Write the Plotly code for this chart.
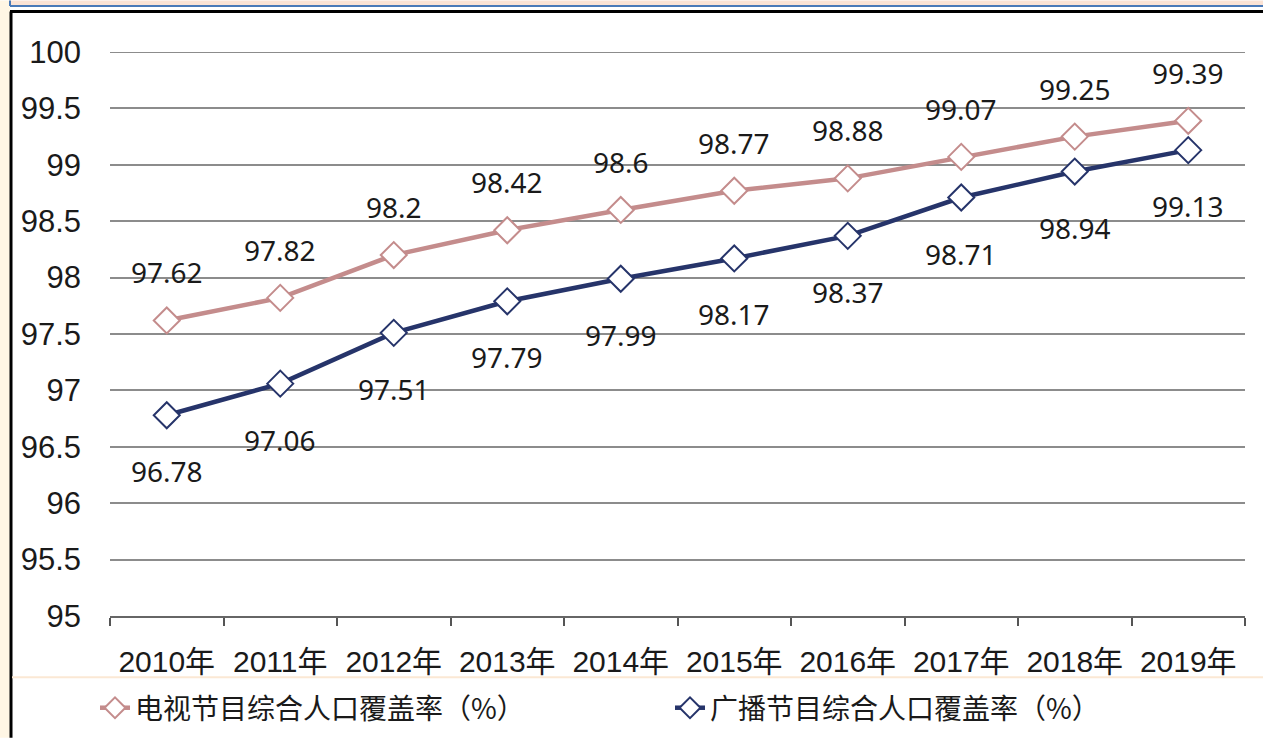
import plotly.graph_objects as go

years = ['2010年', '2011年', '2012年', '2013年', '2014年',
         '2015年', '2016年', '2017年', '2018年', '2019年']
tv_rate = [97.62, 97.82, 98.2, 98.42, 98.6, 98.77, 98.88, 99.07, 99.25, 99.39]
radio_rate = [96.78, 97.06, 97.51, 97.79, 97.99, 98.17, 98.37, 98.71, 98.94, 99.13]
tv_name = '电视节目综合人口覆盖率（%）'
radio_name = '广播节目综合人口覆盖率（%）'

W, H = 1263, 745
L, R, T, B = 110, 18, 52, 123
PW, PH = W - L - R, H - T - B

def px(x):
    return (x - L) / PW

def py(y):
    return (H - B - y) / PH

TICK_FONT = 'Liberation Sans, Arial, Noto Sans CJK SC'
TV_COLOR = '#c48c8c'
RADIO_COLOR = '#26346a'
LABEL_FONT = dict(size=28, color='#1a1a1a', family='Noto Sans, Liberation Sans')

fig = go.Figure()
fig.add_trace(go.Scatter(
    x=years, y=tv_rate, name=tv_name, mode='lines+markers', legend='legend',
    line=dict(color=TV_COLOR, width=4.5),
    marker=dict(symbol='diamond', size=20, color='white',
                line=dict(color=TV_COLOR, width=2))
))
fig.add_trace(go.Scatter(
    x=years, y=radio_rate, name=radio_name, mode='lines+markers', legend='legend2',
    line=dict(color=RADIO_COLOR, width=4.5),
    marker=dict(symbol='diamond', size=20, color='white',
                line=dict(color=RADIO_COLOR, width=2))
))

# data labels: tv above, radio below
for yr, v in zip(years, tv_rate):
    fig.add_annotation(x=yr, y=v, text=str(v), showarrow=False, yshift=48, font=LABEL_FONT)
for yr, v in zip(years, radio_rate):
    fig.add_annotation(x=yr, y=v, text=str(v), showarrow=False, yshift=-56, font=LABEL_FONT)

# frame decorations + top gridline at 100
shapes = [
    dict(type='line', xref='paper', yref='y', x0=0, x1=1, y0=100, y1=100,
         line=dict(color='#8c8c8c', width=2), layer='below'),
    dict(type='rect', xref='paper', yref='paper', x0=px(0), x1=px(10), y0=py(745), y1=py(0),
         fillcolor='#fff6e4', line=dict(width=0), layer='below'),
    dict(type='rect', xref='paper', yref='paper', x0=px(10), x1=px(1263), y0=py(5), y1=py(0),
         fillcolor='#fbe3d5', line=dict(width=0)),
    dict(type='line', xref='paper', yref='paper', x0=px(10), x1=px(1263), y0=py(5.5), y1=py(5.5),
         line=dict(color='#4a7ab8', width=2)),
    dict(type='line', xref='paper', yref='paper', x0=px(10), x1=px(10), y0=py(0), y1=py(5.5),
         line=dict(color='#4a7ab8', width=2)),
    dict(type='line', xref='paper', yref='paper', x0=px(10), x1=px(1263), y0=py(11), y1=py(11),
         line=dict(color='black', width=3)),
    dict(type='line', xref='paper', yref='paper', x0=px(11), x1=px(11), y0=py(745), y1=py(11),
         line=dict(color='black', width=3)),
    dict(type='line', xref='paper', yref='paper', x0=px(12), x1=px(1263), y0=py(684), y1=py(684),
         line=dict(color='#fbe8d4', width=2)),
]

legend_common = dict(orientation='h', yanchor='middle', y=py(715), xanchor='left',
                     font=dict(size=28, family='Noto Sans CJK SC', color='#1a1a1a'),
                     bgcolor='rgba(0,0,0,0)')

fig.update_layout(
    width=W, height=H,
    margin=dict(l=L, r=R, t=T, b=B),
    paper_bgcolor='white', plot_bgcolor='white',
    font=dict(family=TICK_FONT, color='#1a1a1a'),
    shapes=shapes,
    showlegend=True,
    legend=dict(x=px(95), **legend_common),
    legend2=dict(x=px(670), **legend_common),
    xaxis=dict(
        type='category', tickson='boundaries', ticks='outside', ticklen=8,
        tickcolor='#555555', tickwidth=2, showline=True, linecolor='#666666', linewidth=2,
        showgrid=False, tickfont=dict(size=30, family=TICK_FONT, color='#1a1a1a'),
        range=[-0.5, 9.5], ticklabelstandoff=18, tickangle=0, automargin=False,
    ),
    yaxis=dict(
        range=[95, 100], dtick=0.5, tick0=95, showgrid=True, gridcolor='#8c8c8c', gridwidth=2,
        zeroline=False, showline=False, ticks='',
        tickfont=dict(size=31, family=TICK_FONT, color='#1a1a1a'),
        ticklabelstandoff=28, automargin=False,
    ),
)

fig.write_html('out.html', config={'displayModeBar': False},
               post_script="document.body.style.margin='0';")
